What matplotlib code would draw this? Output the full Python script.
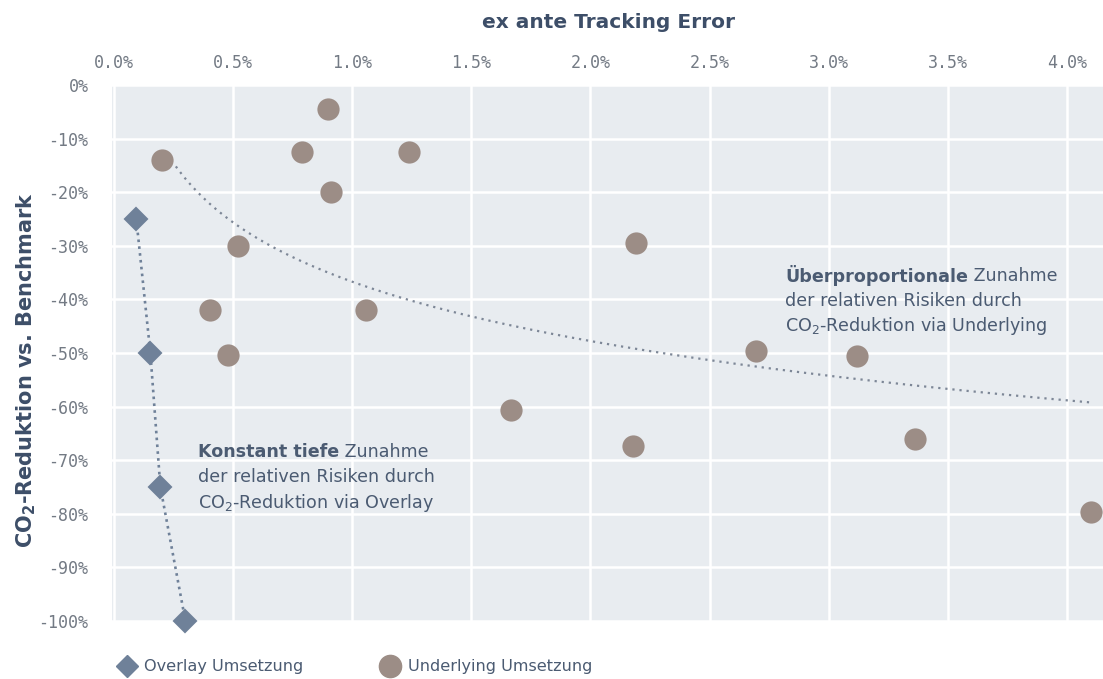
import numpy as np
import matplotlib
matplotlib.use('Agg')
import matplotlib.pyplot as plt
from matplotlib.lines import Line2D
from matplotlib.ticker import FuncFormatter

#data (x = ex ante tracking error in %, y = CO2 reduction in %)
overlay_te = [0.094, 0.153, 0.195, 0.30]
overlay_co2 = [-25, -50, -75, -100]

underlying_te = [0.20, 0.90, 0.79, 1.24, 0.91, 0.52, 0.405, 1.06, 0.48,
                 2.19, 1.665, 2.18, 2.695, 3.12, 3.36, 4.10]
underlying_co2 = [-14, -4.5, -12.5, -12.5, -20, -30, -42, -42, -50.4,
                  -29.5, -60.6, -67.4, -49.6, -50.6, -66, -79.7]

x_ticks = [0.0, 0.5, 1.0, 1.5, 2.0, 2.5, 3.0, 3.5, 4.0]
y_ticks = [0, -10, -20, -30, -40, -50, -60, -70, -80, -90, -100]

#colours
bg = '#e8ecf0'
c_circle = '#9c8d86'
c_diamond = '#6f8199'
c_text = '#4b5b72'
c_tick = '#737a84'
c_title = '#3d4e68'

plt.rcParams['mathtext.fontset'] = 'dejavusans'

fig = plt.figure(figsize=(11.03, 6.79), dpi=100)
ax = fig.add_axes([112/1103, 58/679, 1 - 112/1103, (621-85)/679])
ax.set_facecolor(bg)
for s in ax.spines.values():
    s.set_visible(False)

ax.set_xlim(-0.008, 4.151)
ax.set_ylim(-100, 0)
ax.set_xticks(x_ticks)
ax.set_yticks(y_ticks)
ax.xaxis.tick_top()
ax.xaxis.set_major_formatter(FuncFormatter(lambda v, p: '%.1f%%' % v))
ax.yaxis.set_major_formatter(FuncFormatter(lambda v, p: '%d%%' % v))
ax.tick_params(axis='x', length=0, pad=9, labelsize=12, labelcolor=c_tick)
ax.tick_params(axis='y', length=0, pad=17, labelsize=12, labelcolor=c_tick)
for lab in ax.get_xticklabels() + ax.get_yticklabels():
    lab.set_family('DejaVu Sans Mono')
ax.grid(True, color='white', linewidth=1.8)
ax.set_axisbelow(True)

#logarithmic trend line through the underlying points
lx = np.log(np.array(underlying_te))
b, a = np.polyfit(lx, np.array(underlying_co2), 1)
xs = np.linspace(min(underlying_te) + 0.06, max(underlying_te), 300)
ax.plot(xs, a + b*np.log(xs), color='#7d8797', linestyle=(0, (1, 2.2)), linewidth=1.6, zorder=2)

#overlay line + markers
ax.plot(overlay_te, overlay_co2, color=c_diamond, linestyle=(0, (1, 1.6)), linewidth=1.9, zorder=2)
ax.plot(overlay_te, overlay_co2, linestyle='none', marker='D', markersize=11,
        color=c_diamond, markeredgecolor=c_diamond, markeredgewidth=1.5,
        clip_on=False, zorder=4)
ax.plot(underlying_te, underlying_co2, linestyle='none', marker='o', markersize=16,
        color=c_circle, markeredgewidth=0, clip_on=False, zorder=4)

#annotations
fs = 12.6
def note(x, y, bold, rest, lines):
    t = ax.text(x, y, bold, fontsize=fs, fontweight='bold', color=c_text,
                va='center', ha='left', zorder=5)
    ax.annotate(' ' + rest, xy=(1, 0.5), xycoords=t, va='center', ha='left',
                fontsize=fs, color=c_text, zorder=5)
    for i, line in enumerate(lines):
        ax.text(x, y - 4.7*(i+1), line, fontsize=fs, color=c_text,
                va='center', ha='left', zorder=5)

note(2.817, -35.6, 'Überproportionale', 'Zunahme',
     ['der relativen Risiken durch', r'CO$_2$-Reduktion via Underlying'])
note(0.354, -68.5, 'Konstant tiefe', 'Zunahme',
     ['der relativen Risiken durch', r'CO$_2$-Reduktion via Overlay'])

#titles
fig.text(608/1103, 1 - 23/679, 'ex ante Tracking Error', fontsize=14.5, fontweight='bold',
         color=c_title, ha='center', va='center')
fig.text(26/1103, 1 - 370/679, r'CO$_\mathbf{2}$-Reduktion vs. Benchmark', fontsize=15,
         fontweight='bold', color=c_title, rotation=90, ha='center', va='center')

#legend
handles = [Line2D([], [], linestyle='none', marker='D', markersize=11, color=c_diamond),
           Line2D([], [], linestyle='none', marker='o', markersize=16, color=c_circle)]
fig.legend(handles, ['Overlay Umsetzung', 'Underlying Umsetzung'], ncol=2, frameon=False,
           loc='center left', bbox_to_anchor=(112/1103, 1 - 667/679),
           fontsize=11.6, labelcolor=c_text, handlelength=1.0, handletextpad=0.6,
           columnspacing=4.9, borderaxespad=0)

plt.savefig('out.png', dpi=100)
plt.close()
